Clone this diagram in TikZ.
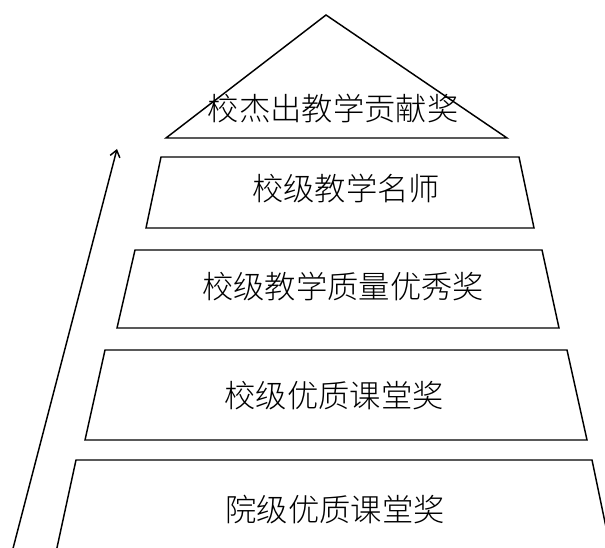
\documentclass[tikz,border=0pt]{standalone}
\usepackage{fontspec}
\newfontfamily\cjk{Noto Sans CJK SC Light}
\usetikzlibrary{calc,arrows.meta}
\tikzset{x=0.75pt, y=-0.75pt, >={Straight Barb[length=5pt, width=7.5pt]},
  tier/.style={draw, line width=1.1pt, line join=miter},
  award/.style={font=\cjk\fontsize{23.5}{28}\selectfont, inner sep=0pt, anchor=base}}

\begin{document}
\begin{tikzpicture}
  \clip (0,0) rectangle (605,548);
  % pyramid levels, top to bottom
  \draw[tier] (326,15) -- (507,138) -- (166,138) -- cycle;
  \draw[tier] (161,157) -- (519,157) -- (534,228) -- (146,228) -- cycle;
  \draw[tier] (135,250) -- (542,250) -- (559,328) -- (117,328) -- cycle;
  \draw[tier] (105,350) -- (567,350) -- (587,440) -- (85,440) -- cycle;
  \draw[tier] (76,460) -- (592,460) -- (617,580) -- (50,580) -- cycle;
  \node[award] (top)     at (333,121) {校杰出教学贡献奖};
  \node[award] (master)  at (346,201) {校级教学名师};
  \node[award] (quality) at (343,298) {校级教学质量优秀奖};
  \node[award] (school)  at (334,407) {校级优质课堂奖};
  \node[award] (college) at (335,521) {院级优质课堂奖};
  % rising arrow
  \coordinate (low)  at (10,560);
  \coordinate (high) at (117,149);
  \draw[->, line width=1.1pt] (low) -- (high);
\end{tikzpicture}
\end{document}
